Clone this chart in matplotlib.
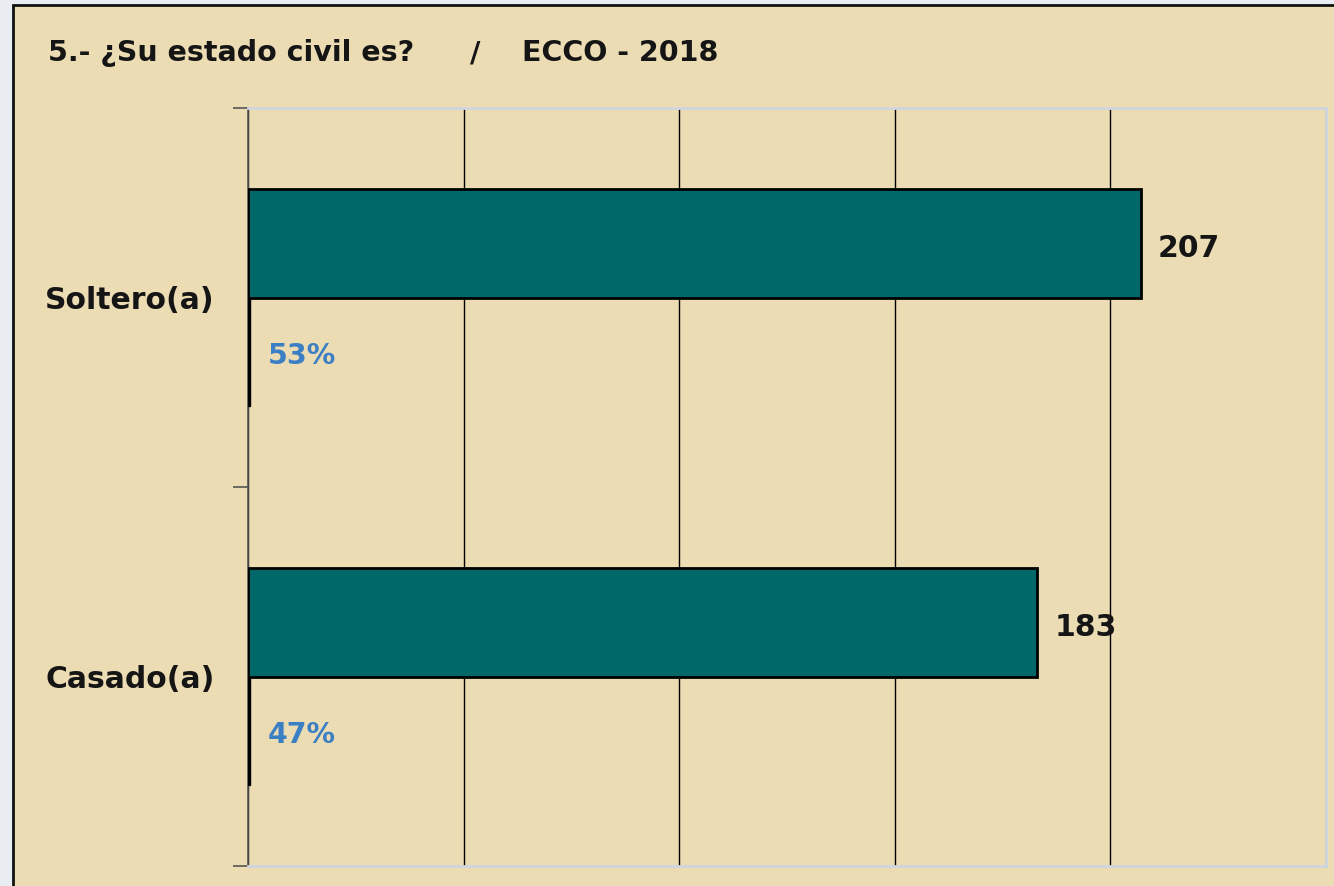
import matplotlib
matplotlib.use("Agg")
import matplotlib.pyplot as plt
from matplotlib.patches import Rectangle
import numpy as np

categories = ["Soltero(a)", "Casado(a)"]
counts = [207, 183]
shares = [0.53, 0.47]
share_labels = ["53%", "47%"]
title_left = "5.- ¿Su estado civil es?"
title_sep = "/"
title_right = "ECCO - 2018"

FONT = ['DejaVu Sans']
plt.rcParams['font.family'] = FONT

W, H = 1334, 886
fig = plt.figure(figsize=(W / 100, H / 100), dpi=100)
fig.patch.set_facecolor('#e9edf1')

bg = '#ecdcb4'
fig.patches.append(Rectangle((13 / W, -0.01), 1.0, (H - 5) / H + 0.01, transform=fig.transFigure,
                             facecolor=bg, edgecolor='#111111', linewidth=2, zorder=-5))

ax = fig.add_axes([248 / W, 20 / H, (1326 - 248) / W, (866 - 108) / H])
ax.set_zorder(2)
ax.set_facecolor('none')

y = np.arange(len(categories))
h = 0.285
ax.barh(y - h / 2, counts, height=h, color='#006868', edgecolor='#000000', linewidth=2, zorder=3)
ax.barh(y + h / 2, shares, height=h, color='#000000', edgecolor='#000000', linewidth=1, zorder=3)

for yi, c in zip(y, counts):
    ax.text(c + 4, yi - h / 2 + 0.012, str(c), va='center', ha='left', fontsize=21.5,
            fontweight='bold', color='#151515')
for yi, s, lab in zip(y, shares, share_labels):
    ax.text(4.5, yi + h / 2 + 0.012, lab, va='center', ha='left', fontsize=20.5,
            fontweight='bold', color='#3b7fc4')

ax.set_xlim(0, 250)
ax.set_ylim(1.5, -0.5)
ax.set_xticks([0, 50, 100, 150, 200, 250])
ax.set_xticklabels([])
ax.tick_params(axis='x', length=0)
ax.grid(axis='x', color='#000000', linewidth=1, zorder=1)
ax.set_yticks([-0.5, 0.5, 1.5])
ax.set_yticklabels([])
ax.set_yticks(y, minor=True)
ax.set_yticklabels(categories, minor=True, fontsize=21.5, fontweight='bold', color='#151515')
ax.tick_params(axis='y', which='major', length=11, width=1.2, color='#555555', direction='out')
ax.tick_params(axis='y', which='minor', length=0, pad=24)

for side in ['top', 'bottom', 'right']:
    ax.spines[side].set_color('#cfd5de')
    ax.spines[side].set_linewidth(2)
ax.spines['left'].set_color('#555555')
ax.spines['left'].set_linewidth(1.2)

ty = 1 - 53 / H
kw = dict(ha='left', va='center', fontsize=20.5, fontweight='bold', color='#151515')
fig.text(48 / W, ty, title_left, **kw)
fig.text(470 / W, ty, title_sep, **kw)
fig.text(522 / W, ty, title_right, **kw)

fig.savefig('out.png', dpi=100, facecolor=fig.get_facecolor())
